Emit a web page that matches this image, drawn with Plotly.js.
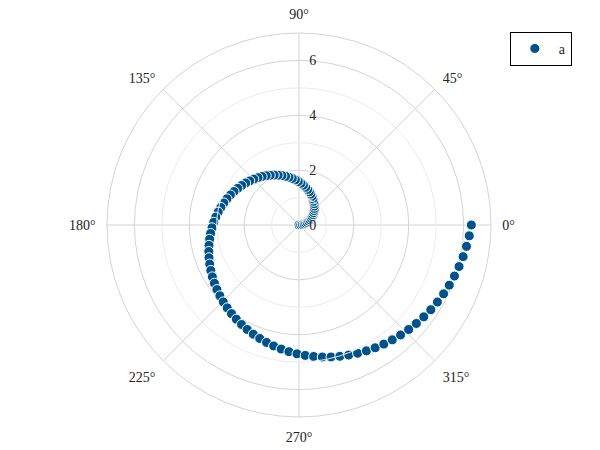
<!DOCTYPE html>
<html>
<head>
<meta charset="utf-8">
<script src="https://cdn.plot.ly/plotly-3.0.1.min.js"></script>
<style>
  html, body { margin: 0; padding: 0; background: #fff; }
  #chart { width: 600px; height: 450px; }
</style>
</head>
<body>
<div id="chart"></div>
<script>
// spiral points (angle in degrees, radius)
const thetaDeg = [
  0, 3.64, 7.27, 10.91, 14.55, 18.18, 21.82, 25.45, 29.09, 32.73,
  36.36, 40.00, 43.64, 47.27, 50.91, 54.55, 58.18, 61.82, 65.45, 69.09,
  72.73, 76.36, 80.00, 83.64, 87.27, 90.91, 94.55, 98.18, 101.82, 105.45,
  109.09, 112.73, 116.36, 120.00, 123.64, 127.27, 130.91, 134.55, 138.18, 141.82,
  145.45, 149.09, 152.73, 156.36, 160.00, 163.64, 167.27, 170.91, 174.55, 178.18,
  181.82, 185.45, 189.09, 192.73, 196.36, 200.00, 203.64, 207.27, 210.91, 214.55,
  218.18, 221.82, 225.45, 229.09, 232.73, 236.36, 240.00, 243.64, 247.27, 250.91,
  254.55, 258.18, 261.82, 265.45, 269.09, 272.73, 276.36, 280.00, 283.64, 287.27,
  290.91, 294.55, 298.18, 301.82, 305.45, 309.09, 312.73, 316.36, 320.00, 323.64,
  327.27, 330.91, 334.55, 338.18, 341.82, 345.45, 349.09, 352.73, 356.36, 360.00
];
const radius = [
  0, 0.063, 0.127, 0.190, 0.254, 0.317, 0.381, 0.444, 0.508, 0.571,
  0.635, 0.698, 0.762, 0.825, 0.889, 0.952, 1.015, 1.079, 1.142, 1.206,
  1.269, 1.333, 1.396, 1.460, 1.523, 1.587, 1.650, 1.714, 1.777, 1.840,
  1.904, 1.967, 2.031, 2.094, 2.158, 2.221, 2.285, 2.348, 2.412, 2.475,
  2.539, 2.602, 2.666, 2.729, 2.793, 2.856, 2.919, 2.983, 3.046, 3.110,
  3.173, 3.237, 3.300, 3.364, 3.427, 3.491, 3.554, 3.618, 3.681, 3.744,
  3.808, 3.871, 3.935, 3.998, 4.062, 4.125, 4.189, 4.252, 4.316, 4.379,
  4.443, 4.506, 4.570, 4.633, 4.697, 4.760, 4.823, 4.887, 4.950, 5.014,
  5.077, 5.141, 5.204, 5.268, 5.331, 5.395, 5.458, 5.522, 5.585, 5.648,
  5.712, 5.775, 5.839, 5.902, 5.966, 6.029, 6.093, 6.156, 6.220, 6.283
];
const seriesName = 'a';
const radialTicks = [0, 2, 4, 6];
const minorRings = [1, 3, 5];

const font = { family: 'Liberation Serif, DejaVu Serif, serif', size: 14, color: '#222' };

const traces = [
  {
    // empty trace so the light-ring subplot gets drawn
    type: 'scatterpolar', mode: 'markers', r: [], theta: [],
    subplot: 'polar2', showlegend: false, hoverinfo: 'skip'
  },
  {
    type: 'scatterpolar',
    mode: 'markers',
    r: radius,
    theta: thetaDeg,
    name: seriesName,
    subplot: 'polar',
    marker: { size: 10, color: '#00538a', line: { color: '#ffffff', width: 1 } }
  }
];

const layout = {
  width: 600,
  height: 450,
  margin: { l: 107, r: 109, t: 33, b: 33 },
  paper_bgcolor: '#ffffff',
  font: font,
  showlegend: true,
  legend: {
    x: 1.049, y: 1.003, xanchor: 'left', yanchor: 'top',
    bordercolor: '#000000', borderwidth: 1, bgcolor: '#ffffff',
    font: font, itemwidth: 38
  },
  // light rings underneath
  polar2: {
    domain: { x: [0, 1], y: [0, 1] },
    bgcolor: 'rgba(0,0,0,0)',
    radialaxis: {
      range: [0, 7], tickvals: minorRings, showticklabels: false,
      gridcolor: '#ececec', gridwidth: 1, showline: false, ticks: ''
    },
    angularaxis: { showgrid: false, showline: false, showticklabels: false, ticks: '' }
  },
  polar: {
    domain: { x: [0, 1], y: [0, 1] },
    bgcolor: 'rgba(0,0,0,0)',
    radialaxis: {
      range: [0, 7], tickvals: radialTicks, angle: 90, tickangle: 90,
      side: 'clockwise',
      gridcolor: '#d4d4d4', gridwidth: 1, showline: false,
      ticks: 'outside', ticklen: 7, tickcolor: 'rgba(0,0,0,0)',
      tickfont: font
    },
    angularaxis: {
      dtick: 45, rotation: 0, direction: 'counterclockwise',
      gridcolor: '#d4d4d4', linecolor: '#d4d4d4', linewidth: 1,
      ticks: 'outside', ticklen: 8, tickcolor: 'rgba(0,0,0,0)',
      tickfont: font
    }
  }
};

Plotly.newPlot('chart', traces, layout, { displayModeBar: false, staticPlot: true });
</script>
</body>
</html>
